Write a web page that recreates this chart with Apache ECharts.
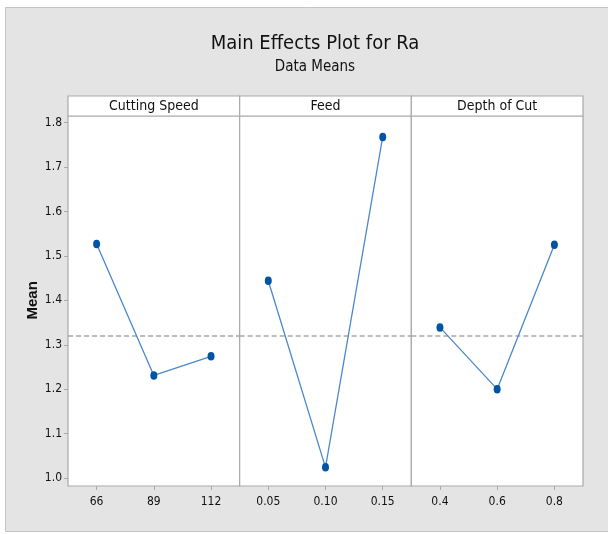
<!DOCTYPE html>
<html>
<head>
<meta charset="utf-8">
<script src="https://cdn.jsdelivr.net/npm/echarts@6/dist/echarts.min.js"></script>
<style>
  html, body { margin: 0; padding: 0; background: #ffffff; }
  #chart { width: 608px; height: 534px; }
</style>
</head>
<body>
<div id="chart"></div>
<script>
// Factor levels and the mean response (Ra) at each level
const factorNames = ['Cutting Speed', 'Feed', 'Depth of Cut'];
const speedLevels = ['66', '89', '112'];
const speedMeans = [1.527, 1.231, 1.274];
const feedLevels = ['0.05', '0.10', '0.15'];
const feedMeans = [1.444, 1.024, 1.768];
const depthLevels = ['0.4', '0.6', '0.8'];
const depthMeans = [1.339, 1.200, 1.525];
const grandMean = 1.318;
const yTicks = { min: 1.0, max: 1.8, step: 0.1 };

// Panel frame layout (pixels) and the value range the frame covers
const FONT = "'Liberation Sans Narrow', 'DejaVu Sans Condensed', 'Arial Narrow', sans-serif";
const frameLeft = 68, frameRight = 583, frameTop = 116, frameBottom = 486, headerTop = 96;
const frameLo = 0.982, frameHi = 1.815;
const pxPerUnit = (frameBottom - frameTop) / (frameHi - frameLo);
const panelW = (frameRight - frameLeft) / 3;
const gridTop = frameTop + (frameHi - yTicks.max) * pxPerUnit;
const gridHeight = (yTicks.max - yTicks.min) * pxPerUnit;
const axisOffset = (yTicks.min - frameLo) * pxPerUnit;

const panels = [
  { levels: speedLevels, means: speedMeans },
  { levels: feedLevels, means: feedMeans },
  { levels: depthLevels, means: depthMeans }
];

const frameColor = '#a9a9a9';
const grids = [], xAxes = [], yAxes = [], series = [], graphics = [];

// outer grey backdrop
graphics.push({
  type: 'rect', z: -10,
  shape: { x: 5.5, y: 7.5, width: 610, height: 524 },
  style: { fill: '#e4e4e4', stroke: '#c4c4c4', lineWidth: 1 }
});

panels.forEach((p, i) => {
  const left = frameLeft + i * panelW;
  grids.push({ left: left, top: gridTop, width: panelW, height: gridHeight });
  xAxes.push({
    type: 'category', gridIndex: i, data: p.levels, boundaryGap: true,
    offset: axisOffset,
    axisLine: { show: false },
    axisTick: { show: true, alignWithLabel: true, length: 4, lineStyle: { color: frameColor } },
    axisLabel: { color: '#111111', fontSize: 12, fontFamily: FONT, margin: 10 }
  });
  yAxes.push({
    type: 'value', gridIndex: i, min: yTicks.min, max: yTicks.max, interval: yTicks.step,
    splitLine: { show: false },
    axisLine: { show: false },
    axisTick: { show: i === 0, length: 4, lineStyle: { color: frameColor } },
    axisLabel: {
      show: i === 0, color: '#111111', fontSize: 12, fontFamily: FONT, margin: 6,
      formatter: v => v.toFixed(1)
    },
    name: i === 0 ? 'Mean' : '',
    nameLocation: 'middle', nameGap: 28,
    nameTextStyle: { fontFamily: 'Liberation Sans, Arial, sans-serif', fontWeight: 'bold', fontSize: 15, color: '#111111' }
  });
  series.push({
    type: 'line', xAxisIndex: i, yAxisIndex: i, data: p.means,
    symbol: 'circle', symbolSize: [7, 8.5],
    itemStyle: { color: '#0054a6' },
    lineStyle: { color: '#4a88cc', width: 1.3 },
    z: 5,
    markLine: {
      silent: true, symbol: 'none', label: { show: false },
      lineStyle: { color: '#a8a8a8', type: [5, 3], width: 1.5 },
      data: [{ yAxis: grandMean }],
      z: 3
    }
  });
  // panel body
  graphics.push({
    type: 'rect', z: 0,
    shape: { x: left, y: frameTop, width: panelW, height: frameBottom - frameTop },
    style: { fill: '#ffffff', stroke: frameColor, lineWidth: 1.2 }
  });
  // header strip with factor name
  graphics.push({
    type: 'rect', z: 0,
    shape: { x: left, y: headerTop, width: panelW, height: frameTop - headerTop },
    style: { fill: '#ffffff', stroke: frameColor, lineWidth: 1.2 }
  });
  graphics.push({
    type: 'text', z: 1,
    x: left + panelW / 2, y: (headerTop + frameTop) / 2,
    style: {
      text: factorNames[i], fill: '#111111', font: '14px ' + FONT,
      align: 'center', verticalAlign: 'middle'
    }
  });
});

const chart = echarts.init(document.getElementById('chart'), null, { renderer: 'canvas' });
chart.setOption({
  animation: false,
  backgroundColor: '#ffffff',
  title: {
    text: 'Main Effects Plot for Ra',
    subtext: 'Data Means',
    left: 310, textAlign: 'center', top: 29, itemGap: 6,
    textStyle: { fontFamily: FONT, fontSize: 20, fontWeight: 'normal', color: '#111111' },
    subtextStyle: { fontFamily: FONT, fontSize: 15, color: '#111111' }
  },
  graphic: graphics,
  grid: grids,
  xAxis: xAxes,
  yAxis: yAxes,
  series: series
});
</script>
</body>
</html>
